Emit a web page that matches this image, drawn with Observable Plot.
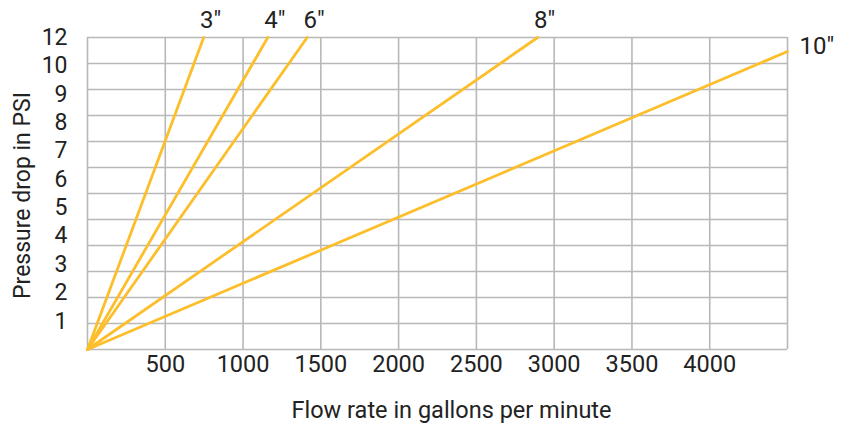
<!DOCTYPE html>
<html><head><meta charset="utf-8">
<script src="https://cdn.jsdelivr.net/npm/d3@7"></script>
<script src="https://cdn.jsdelivr.net/npm/@observablehq/plot@0.6"></script>
<style>body{margin:0;background:#fff}</style>
</head><body><div id="chart"></div>
<script>
// Pipe sizes and the end point of each pressure-drop line (lines start at 0,0)
const sizes = ["3″", "4″", "6″", "8″", "10″"];
const endFlow = [747, 1159, 1412, 2894, 4500];       // gallons per minute
const endPressure = [12, 12, 12, 12, 11.46];          // PSI (grid units)
// Axis ticks
const xTickValues = [500, 1000, 1500, 2000, 2500, 3000, 3500, 4000];
const xGrid = [0, 500, 1000, 1500, 2000, 2500, 3000, 3500, 4000, 4500];
const yGrid = [0, 1, 2, 3, 4, 5, 6, 7, 8, 9, 10, 11, 12];
const yTickLabels = ["1", "2", "3", "4", "5", "6", "7", "8", "9", "10", "12"];

const series = sizes.flatMap((s, i) => [
  {size: s, flow: 0, psi: 0},
  {size: s, flow: endFlow[i], psi: endPressure[i]}
]);
const ends = sizes.map((s, i) => ({size: s, flow: endFlow[i], psi: endPressure[i]}));

// tick labels are spread evenly over the 0–12 axis, as in the source chart
const yTickPos = yTickLabels.map((d, i) => 12 * (i + 1) / yTickLabels.length);
const yLabelMap = new Map(yTickPos.map((p, i) => [p, yTickLabels[i]]));

const grid = {stroke: "#b8b8b8", strokeOpacity: 1, strokeWidth: 1.6};
const gold = "#fcbf2b";

const chart = Plot.plot({
  width: 846,
  height: 424,
  marginLeft: 87,
  marginRight: 59,
  marginTop: 37,
  marginBottom: 75,
  style: {fontFamily: "Roboto, sans-serif", fontSize: "23px", color: "#222", background: "#fff"},
  x: {domain: [0, 4500]},
  y: {domain: [0, 12]},
  marks: [
    Plot.gridX(xGrid, grid),
    Plot.gridY(yGrid, grid),
    Plot.axisX(xTickValues, {tickSize: 0, tickPadding: 6, label: null, fontSize: 23.5, fill: "#222",
      tickFormat: d => String(d)}),
    Plot.axisY(yTickPos, {tickSize: 0, tickPadding: 20, label: null, fontSize: 23, fill: "#222",
      tickFormat: d => yLabelMap.get(d)}),
    Plot.line(series, {x: "flow", y: "psi", z: "size", stroke: gold, strokeWidth: 2.8}),
    Plot.text(ends.filter(d => d.psi >= 12), {x: "flow", y: "psi", text: "size",
      dx: 7, dy: -17, fontSize: 24, fill: "#222"}),
    Plot.text(ends.filter(d => d.psi < 12), {x: "flow", y: "psi", text: "size",
      textAnchor: "start", dx: 12, dy: -5, fontSize: 24, fill: "#222"}),
    Plot.text(["Flow rate in gallons per minute"], {text: d => d, frameAnchor: "bottom",
      dx: 14, dy: 68, fontSize: 23.5, fill: "#222"}),
    Plot.text(["Pressure drop in PSI"], {text: d => d, frameAnchor: "left", textAnchor: "middle",
      rotate: -90, dx: -65, dy: 2, fontSize: 23, fill: "#222"})
  ]
});
document.getElementById("chart").append(chart);
</script>
</body></html>
